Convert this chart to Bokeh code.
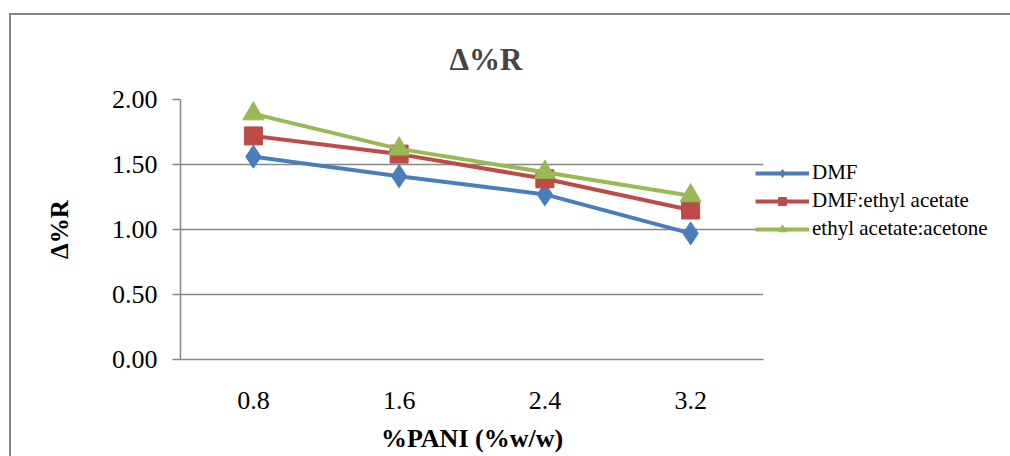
from bokeh.plotting import figure
from bokeh.models import (FactorRange, Range1d, FixedTicker, NumeralTickFormatter,
                          Legend, LegendItem)
from bokeh.embed import file_html
from bokeh.resources import INLINE

categories = ["0.8", "1.6", "2.4", "3.2"]
dmf = [1.56, 1.41, 1.27, 0.97]
dmf_ethyl = [1.72, 1.58, 1.39, 1.15]
ethyl_acetone = [1.89, 1.62, 1.44, 1.26]
series_names = ["DMF", "DMF:ethyl acetate", "ethyl acetate:acetone"]
y_ticks = [0.0, 0.5, 1.0, 1.5, 2.0]

FONT = "Liberation Serif"
GRAY = "#878787"

p = figure(frame_width=583, frame_height=260,
           x_range=FactorRange(*categories, range_padding=0),
           y_range=Range1d(0, 2), output_backend="svg", toolbar_location=None,
           min_border_left=169, min_border_right=247, min_border_top=84,
           min_border_bottom=97, title="Δ%R")
p.styles = {"margin-left": "9px", "margin-top": "13px",
            "border-left": "2px solid #868686", "border-top": "2px solid #868686"}
p.outline_line_color = None
p.background_fill_color = "white"
p.border_fill_color = "white"

p.title.text_font = FONT
p.title.text_font_size = "31px"
p.title.text_font_style = "bold"
p.title.align = "left"
p.title.offset = 269
p.title.standoff = 46

p.xgrid.grid_line_color = None
p.ygrid.grid_line_color = GRAY
p.ygrid.grid_line_width = 1.5
p.ygrid.ticker = FixedTicker(ticks=y_ticks)

p.yaxis.ticker = FixedTicker(ticks=y_ticks)
p.yaxis.formatter = NumeralTickFormatter(format="0.00")
p.yaxis.axis_line_color = GRAY
p.yaxis.axis_line_width = 1.5
p.yaxis.major_tick_line_color = GRAY
p.yaxis.major_tick_line_width = 1.5
p.yaxis.major_tick_in = 0
p.yaxis.major_tick_out = 8
p.yaxis.minor_tick_line_color = None
p.yaxis.major_label_standoff = 15
p.yaxis.major_label_text_font = FONT
p.yaxis.major_label_text_font_size = "26px"
p.yaxis.major_label_text_color = "black"
p.yaxis.axis_label = "Δ%R"
p.yaxis.axis_label_text_font = FONT
p.yaxis.axis_label_text_font_size = "25px"
p.yaxis.axis_label_text_font_style = "bold"
p.yaxis.axis_label_text_color = "black"
p.yaxis.axis_label_standoff = 36

p.xaxis.axis_line_color = GRAY
p.xaxis.axis_line_width = 1.5
p.xaxis.major_tick_line_color = None
p.xaxis.major_tick_in = 0
p.xaxis.major_tick_out = 0
p.xaxis.major_label_standoff = 32
p.xaxis.major_label_text_font = FONT
p.xaxis.major_label_text_font_size = "26px"
p.xaxis.major_label_text_color = "black"
p.xaxis.axis_label = "%PANI (%w/w)"
p.xaxis.axis_label_text_font = FONT
p.xaxis.axis_label_text_font_size = "26px"
p.xaxis.axis_label_text_font_style = "bold"
p.xaxis.axis_label_text_color = "black"
p.xaxis.axis_label_standoff = 12

colors = ["#4A7EBB", "#BE4B48", "#98B954"]
items = []
# DMF: diamonds
l1 = p.line(categories, dmf, line_color=colors[0], line_width=4)
m1 = p.scatter(categories, dmf, marker="diamond", size=23,
               fill_color=colors[0], line_color=colors[0])
items.append(LegendItem(label=series_names[0], renderers=[l1, m1]))
# DMF:ethyl acetate: squares
l2 = p.line(categories, dmf_ethyl, line_color=colors[1], line_width=4)
m2 = p.scatter(categories, dmf_ethyl, marker="square", size=18,
               fill_color=colors[1], line_color=colors[1])
items.append(LegendItem(label=series_names[1], renderers=[l2, m2]))
# ethyl acetate:acetone: triangles
l3 = p.line(categories, ethyl_acetone, line_color=colors[2], line_width=4)
m3 = p.scatter(categories, ethyl_acetone, marker="triangle", size=21,
               fill_color=colors[2], line_color=colors[2])
items.append(LegendItem(label=series_names[2], renderers=[l3, m3]))

legend = Legend(items=items, location=(-8, 118), padding=0, margin=0, spacing=3,
                label_text_font=FONT, label_text_font_size="21px",
                label_text_color="black", glyph_width=54, glyph_height=20,
                label_height=20, label_standoff=3,
                background_fill_alpha=0, border_line_color=None)
p.add_layout(legend, "right")

open("out.html", "w").write(file_html(p, INLINE))
